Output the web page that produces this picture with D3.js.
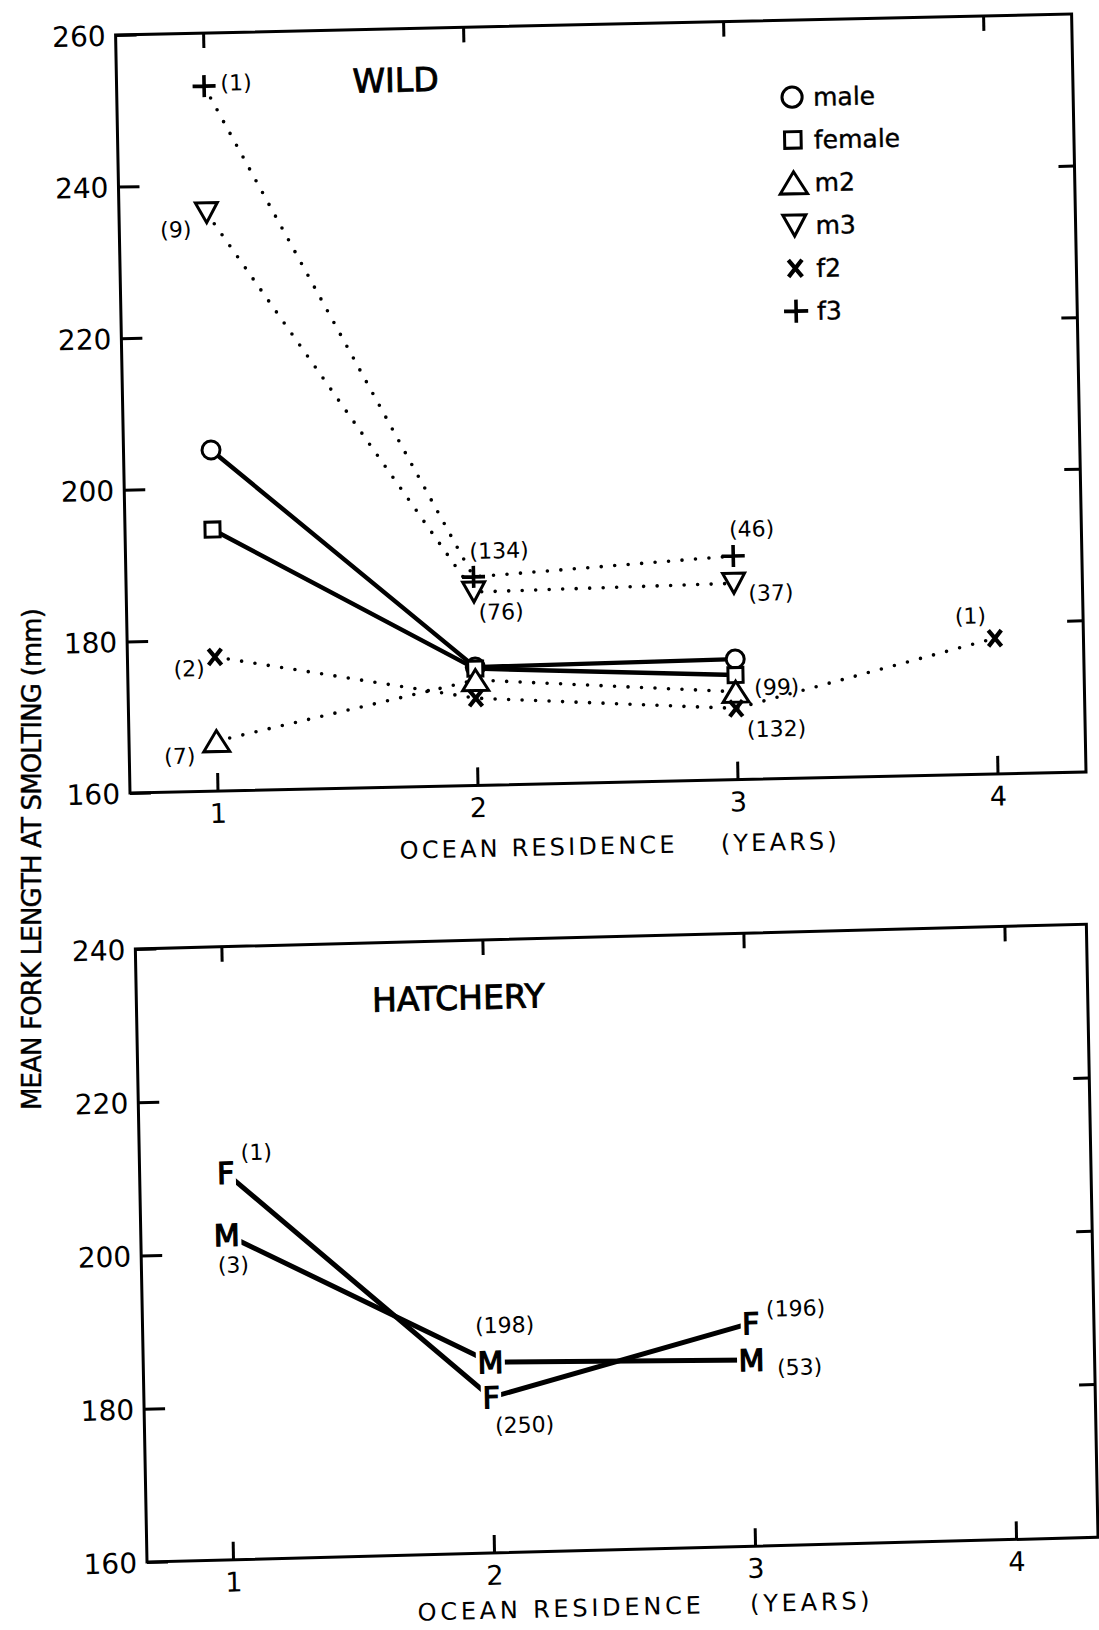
<!DOCTYPE html>
<html><head><meta charset="utf-8">
<script src="https://cdn.jsdelivr.net/npm/d3@7"></script>
<style>
body{margin:0;background:#fff;}
svg text{font-family:"DejaVu Sans","Liberation Sans",sans-serif;fill:#000;}
</style></head><body>
<svg id="chart" width="1099" height="1630" xmlns="http://www.w3.org/2000/svg"></svg>
<script>
// ---------------- DATA ----------------
const xTicks = [1, 2, 3, 4];
const wildYTicks = [160, 180, 200, 220, 240, 260];
const hatchYTicks = [160, 180, 200, 220, 240];

// WILD: mean fork length (mm) at ocean residence 1,2,3(,4) years
const wildMale   = [205.0, 175.6, 175.9];
const wildFemale = [194.5, 175.4, 173.8];
const wildM2     = [166.6, 173.9, 171.6];
const wildM3     = [236.3, 185.5, 185.9];
const wildF2     = [177.7, 171.5, 169.4, 177.9];
const wildF3     = [253.0, 187.5, 189.5];
// sample sizes
const wildM2N = ["(7)", "", "(99)"];
const wildM3N = ["(9)", "(76)", "(37)"];
const wildF2N = ["(2)", "", "(132)", "(1)"];
const wildF3N = ["(1)", "(134)", "(46)"];

// HATCHERY
const hatchMale   = [202.4, 184.9, 184.3];
const hatchFemale = [210.5, 180.3, 189.1];
const hatchMaleN   = ["(3)", "(198)", "(53)"];
const hatchFemaleN = ["(1)", "(250)", "(196)"];

const legendLabels = ["male", "female", "m2", "m3", "f2", "f3"];

// ---------------- LAYOUT ----------------
const svg = d3.select("#chart");
const FS_TICK = 28, FS_N = 22;

function panel(p) {
  const g = svg.append("g")
    .attr("transform", `translate(${p.ox},${p.oy}) matrix(1,${p.b},${p.c},1,0,0)`);
  const x = d3.scaleLinear().domain(p.xDomain).range([0, p.W]);
  const y = d3.scaleLinear().domain(p.yDomain).range([0, -p.H]);

  g.append("rect").attr("x", 0).attr("y", -p.H).attr("width", p.W).attr("height", p.H)
    .attr("fill", "none").attr("stroke", "#000").attr("stroke-width", 3);

  const style = (ax) => {
    ax.select(".domain").remove();
    ax.attr("font-family", null).attr("font-size", null);
    ax.selectAll("line").attr("stroke", "#000").attr("stroke-width", 3);
  };
  const gl = g.append("g").call(d3.axisLeft(y).tickValues(p.yTicks)
      .tickSizeInner(-21).tickSizeOuter(0).tickPadding(10).tickFormat(d3.format("d")));
  style(gl);
  gl.selectAll("text").style("font-size", FS_TICK + "px").attr("dy", "0.36em");

  const inner = p.yTicks.slice(1, -1);
  const gr = g.append("g").attr("transform", `translate(${p.W},0)`)
    .call(d3.axisRight(y).tickValues(inner).tickSizeInner(-16).tickSizeOuter(0).tickFormat(""));
  style(gr);

  const gb = g.append("g").call(d3.axisBottom(x).tickValues(xTicks)
      .tickSizeInner(-18).tickSizeOuter(0).tickFormat(d3.format("d")));
  style(gb);
  gb.selectAll("text").attr("y", 22).attr("dy", "0.36em").style("font-size", "27px");

  const gt = g.append("g").attr("transform", `translate(0,${-p.H})`)
    .call(d3.axisTop(x).tickValues(xTicks).tickSizeInner(-15).tickSizeOuter(0).tickFormat(""));
  style(gt);

  g.append("text").attr("x", p.W / 2 + p.xTitleDx).attr("y", p.xTitleY).attr("dy", "0.36em")
    .attr("text-anchor", "middle").style("font-size", "24px").style("white-space", "pre")
    .attr("xml:space", "preserve")
    .attr("textLength", p.xTitleLen).attr("lengthAdjust", "spacing")
    .text("OCEAN RESIDENCE    (YEARS)");

  g.append("text").attr("x", p.title[0]).attr("y", p.title[1]).attr("dy", "0.36em")
    .attr("text-anchor", "middle").style("font-size", "33px")
    .attr("stroke", "#000").attr("stroke-width", 0.9)
    .text(p.titleText);
  return { g, x, y };
}

// Y axis title (shared)
svg.append("text").attr("transform", "translate(32,859) rotate(-90)")
  .attr("text-anchor", "middle").attr("dy", "0.36em").style("font-size", "26px")
  .attr("stroke", "#000").attr("stroke-width", 0.4)
  .attr("textLength", 502).attr("lengthAdjust", "spacing")
  .text("MEAN FORK LENGTH AT SMOLTING (mm)");

// ---------------- symbols ----------------
function symbol(sel, type, cx, cy, s) {
  s = s || 1;
  const W = "#fff", K = "#000";
  if (type === "circle") {
    sel.append("circle").attr("cx", cx).attr("cy", cy).attr("r", 9 * s)
      .attr("fill", W).attr("stroke", K).attr("stroke-width", 3);
  } else if (type === "square") {
    sel.append("rect").attr("x", cx - 7.5 * s).attr("y", cy - 7.5 * s)
      .attr("width", 15 * s).attr("height", 15 * s)
      .attr("fill", W).attr("stroke", K).attr("stroke-width", 3);
  } else if (type === "triUp") {
    sel.append("path").attr("d", `M${cx},${cy - 10.5 * s}L${cx + 13 * s},${cy + 10.5 * s}L${cx - 13 * s},${cy + 10.5 * s}Z`)
      .attr("fill", W).attr("stroke", K).attr("stroke-width", 3);
  } else if (type === "triDown") {
    sel.append("path").attr("d", `M${cx - 11 * s},${cy - 10 * s}L${cx + 11 * s},${cy - 10 * s}L${cx},${cy + 10 * s}Z`)
      .attr("fill", W).attr("stroke", K).attr("stroke-width", 3);
  } else if (type === "plus") {
    sel.append("path").attr("d", `M${cx - 11.5 * s},${cy}H${cx + 11.5 * s}M${cx},${cy - 11 * s}V${cy + 11 * s}`)
      .attr("fill", "none").attr("stroke", K).attr("stroke-width", 3.6);
  } else if (type === "cross") {
    sel.append("path").attr("d", `M${cx - 6.5 * s},${cy - 8 * s}L${cx + 6.5 * s},${cy + 8 * s}M${cx - 6.5 * s},${cy + 8 * s}L${cx + 6.5 * s},${cy - 8 * s}`)
      .attr("fill", "none").attr("stroke", K).attr("stroke-width", 4.2);
  }
}

// ---------------- WILD panel ----------------
const wildP = panel({
  ox: 130, oy: 793, b: -0.022, c: 0.019, W: 956, H: 758,
  xDomain: [0.6635, 4.3404], yDomain: [160, 260], yTicks: wildYTicks,
  xTitleDx: 9, xTitleY: 63, xTitleLen: 437, title: [279, -707], titleText: "WILD"
});

const wildSeries = [
  { values: wildMale,   n: null,    sym: "circle",  dotted: false, off: null },
  { values: wildFemale, n: null,    sym: "square",  dotted: false, off: null },
  { values: wildM2,     n: wildM2N, sym: "triUp",   dotted: true,  off: [[-37, 14], null, [41, -4]] },
  { values: wildF2,     n: wildF2N, sym: "cross",   dotted: true,  off: [[-26, 11], null, [40, 21], [-24, -23]] },
  { values: wildM3,     n: wildM3N, sym: "triDown", dotted: true,  off: [[-31, 16], [27, 20], [37, 10]] },
  { values: wildF3,     n: wildF3N, sym: "plus",    dotted: true,  off: [[32, -3], [26, -26], [19, -27]] }
];

const lineGen = (sx, sy) => d3.line().x((d, i) => sx(xTicks[i])).y(d => sy(d));

wildSeries.filter(s => s.dotted).forEach(s => {
  wildP.g.append("path").attr("d", lineGen(wildP.x, wildP.y)(s.values))
    .attr("fill", "none").attr("stroke", "#000").attr("stroke-width", 3.6)
    .attr("stroke-linecap", "round").attr("stroke-dasharray", "0 13.5");
});
wildSeries.filter(s => !s.dotted).forEach(s => {
  wildP.g.append("path").attr("d", lineGen(wildP.x, wildP.y)(s.values))
    .attr("fill", "none").attr("stroke", "#000").attr("stroke-width", 4.4)
    .attr("stroke-linecap", "round").attr("stroke-linejoin", "round");
});
wildSeries.forEach(s => {
  s.values.forEach((v, i) => symbol(wildP.g, s.sym, wildP.x(xTicks[i]), wildP.y(v), 1));
});
wildSeries.forEach(s => {
  if (!s.n) return;
  s.n.forEach((t, i) => {
    if (!t || !s.off[i]) return;
    wildP.g.append("text").attr("x", wildP.x(xTicks[i]) + s.off[i][0])
      .attr("y", wildP.y(s.values[i]) + s.off[i][1]).attr("dy", "0.36em")
      .attr("text-anchor", "middle").style("font-size", FS_N + "px").text(t);
  });
});

// legend
const legSyms = ["circle", "square", "triUp", "triDown", "cross", "plus"];
const legX = 675, legY0 = -681, legStep = 42.8;
legendLabels.forEach((lab, i) => {
  const cy = legY0 + i * legStep;
  symbol(wildP.g, legSyms[i], legX, cy, i === 0 ? 1.12 : (i === 1 ? 1.1 : 1.05));
  wildP.g.append("text").attr("x", legX + 21).attr("y", cy).attr("dy", "0.36em")
    .style("font-size", "25px").attr("stroke", "#000").attr("stroke-width", 0.4).text(lab);
});

// ---------------- HATCHERY panel ----------------
const hatchP = panel({
  ox: 147, oy: 1562, b: -0.026, c: 0.019, W: 951, H: 613,
  xDomain: [0.6705, 4.314], yDomain: [160, 240], yTicks: hatchYTicks,
  xTitleDx: 20, xTitleY: 57, xTitleLen: 452, title: [322, -556], titleText: "HATCHERY"
});

const hatchSeries = [
  { values: hatchMale,   n: hatchMaleN,   letter: "M", off: [[6, 30], [15, -37], [48, 8]] },
  { values: hatchFemale, n: hatchFemaleN, letter: "F", off: [[31, -20], [33, 28], [45, -14]] }
];
hatchSeries.forEach(s => {
  hatchP.g.append("path").attr("d", lineGen(hatchP.x, hatchP.y)(s.values))
    .attr("fill", "none").attr("stroke", "#000").attr("stroke-width", 5)
    .attr("stroke-linecap", "round").attr("stroke-linejoin", "round");
});
const FS_L = 30, capH = 0.729 * FS_L;
hatchSeries.forEach(s => {
  s.values.forEach((v, i) => {
    const cx = hatchP.x(xTicks[i]), cy = hatchP.y(v);
    const bg = hatchP.g.append("rect");
    const t = hatchP.g.append("text").attr("x", cx).attr("y", cy).attr("dy", "0.365em")
      .attr("text-anchor", "middle").style("font-size", FS_L + "px")
      .attr("stroke", "#000").attr("stroke-width", 1.3).text(s.letter);
    const bb = t.node().getBBox();
    bg.attr("x", bb.x - 1.5).attr("width", bb.width + 3)
      .attr("y", cy - capH / 2 - 2).attr("height", capH + 4).attr("fill", "#fff");
    hatchP.g.append("text").attr("x", cx + s.off[i][0]).attr("y", cy + s.off[i][1])
      .attr("dy", "0.36em").attr("text-anchor", "middle")
      .style("font-size", FS_N + "px").text(s.n[i]);
  });
});
</script>
</body></html>
